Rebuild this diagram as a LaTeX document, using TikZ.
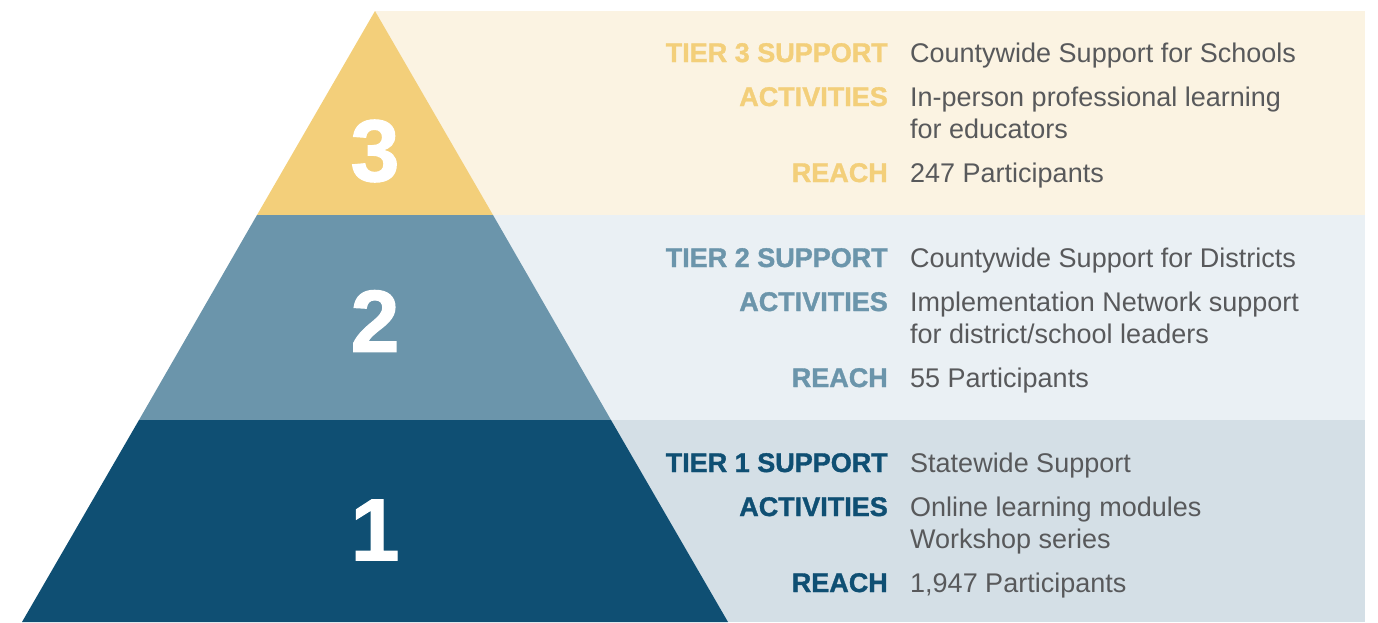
\documentclass[tikz,border=0pt]{standalone}
\usepackage{fontspec}
\setmainfont{Liberation Sans}
\newfontfamily\headfont[BoldFeatures={FakeBold=1.3}]{Liberation Sans}
\usetikzlibrary{positioning}

\definecolor{tierthree}{HTML}{F3CF7A}
\definecolor{tierthreebg}{HTML}{FBF3E2}
\definecolor{tiertwo}{HTML}{6B95AB}
\definecolor{tiertwobg}{HTML}{EAF0F4}
\definecolor{tierone}{HTML}{0F4F73}
\definecolor{tieronebg}{HTML}{D4DFE6}
\definecolor{bodygray}{HTML}{58595B}

\begin{document}
\begin{tikzpicture}[x=1pt, y=-1pt,
    tierhead/.style={anchor=base east, inner sep=0pt, font=\headfont\bfseries\fontsize{27}{32}\selectfont},
    tierbody/.style={anchor=base west, inner sep=0pt, align=left, text=bodygray, font=\fontsize{27}{32}\selectfont},
    tiernum/.style={text=white, inner sep=0pt, font=\headfont\bfseries\fontsize{88}{88}\selectfont}]
  \useasboundingbox (0,0) rectangle (1378,622);

  % panels behind the text
  \fill[tierthreebg] (375,11) rectangle (1365,215);
  \fill[tiertwobg] (375,215) rectangle (1365,420);
  \fill[tieronebg] (375,420) rectangle (1365,622);

  % the pyramid, cut into three bands
  \coordinate (apex) at (375,11);
  \coordinate (l3) at (257,215);  \coordinate (r3) at (493,215);
  \coordinate (l2) at (139,420);  \coordinate (r2) at (611,420);
  \coordinate (l1) at (22,622);   \coordinate (r1) at (728,622);
  \fill[tierthree] (apex) -- (r3) -- (l3) -- cycle;
  \fill[tiertwo] (l3) -- (r3) -- (r2) -- (l2) -- cycle;
  \fill[tierone] (l2) -- (r2) -- (r1) -- (l1) -- cycle;

  \node[tiernum] (n3) at (375,151) {3};
  \node[tiernum] (n2) at (375,321) {2};
  \node[tiernum] (n1) at (375,530) {1};

  % tier 3 (two-line nodes sit on the baseline of their last line)
  \node[tierhead, text=tierthree] (t3head) at (888,62) {TIER 3 SUPPORT};
  \node[tierhead, text=tierthree] (t3act) at (888,106) {ACTIVITIES};
  \node[tierhead, text=tierthree] (t3reach) at (888,182) {REACH};
  \node[tierbody] (t3what) at (910,62) {Countywide Support for Schools};
  \node[tierbody] (t3list) at (910,138) {In-person professional learning\\for educators};
  \node[tierbody] (t3count) at (910,182) {247 Participants};

  % tier 2
  \node[tierhead, text=tiertwo] (t2head) at (888,267) {TIER 2 SUPPORT};
  \node[tierhead, text=tiertwo] (t2act) at (888,311) {ACTIVITIES};
  \node[tierhead, text=tiertwo] (t2reach) at (888,387) {REACH};
  \node[tierbody] (t2what) at (910,267) {Countywide Support for Districts};
  \node[tierbody] (t2list) at (910,343) {Implementation Network support\\for district/school leaders};
  \node[tierbody] (t2count) at (910,387) {55 Participants};

  % tier 1
  \node[tierhead, text=tierone] (t1head) at (888,472) {TIER 1 SUPPORT};
  \node[tierhead, text=tierone] (t1act) at (888,516) {ACTIVITIES};
  \node[tierhead, text=tierone] (t1reach) at (888,592) {REACH};
  \node[tierbody] (t1what) at (910,472) {Statewide Support};
  \node[tierbody] (t1list) at (910,548) {Online learning modules\\Workshop series};
  \node[tierbody] (t1count) at (910,592) {1,947 Participants};
\end{tikzpicture}
\end{document}
